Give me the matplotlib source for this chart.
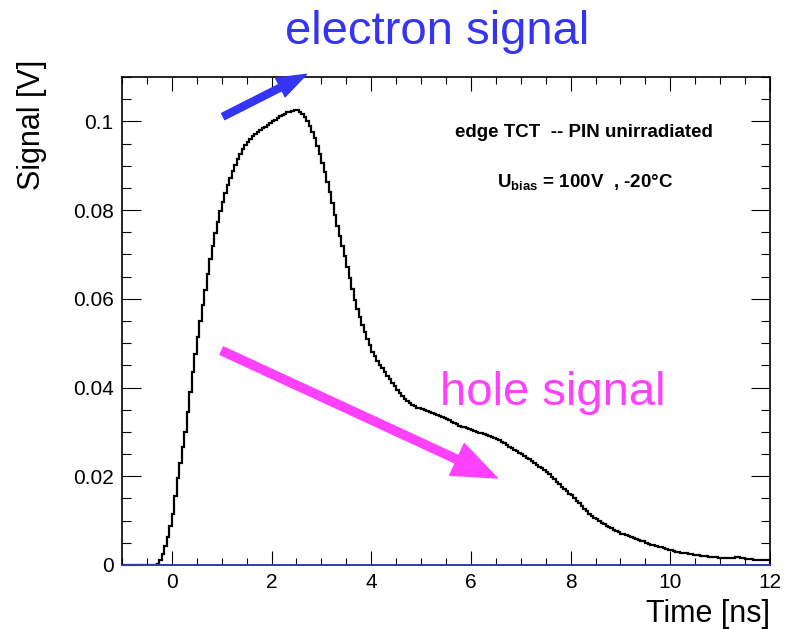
import numpy as np
import matplotlib
matplotlib.use("Agg")
import matplotlib.pyplot as plt
from matplotlib.patches import FancyArrowPatch

plt.rcParams['font.family'] = ['Liberation Sans', 'DejaVu Sans']
plt.rcParams['mathtext.fontset'] = 'custom'
plt.rcParams['mathtext.rm'] = 'Liberation Sans'
plt.rcParams['mathtext.bf'] = 'Liberation Sans:bold'

# ---- data -----------------------------------------------------------------
t_start = -1.0        # ns, first bin edge
bin_width = 0.05      # ns
signal_V = [
    # -1 .. 0 ns
    0, 0, 0, 0, 0, 0, 0, 0, 0, 0, 0, 0, 0, 0,
    0.0003, 0.0012, 0.0025, 0.0042, 0.0062, 0.0088,
    # 0 .. 1 ns
    0.0115, 0.0155, 0.0195, 0.0230, 0.0265, 0.0300, 0.0345, 0.0390, 0.0435, 0.0475,
    0.0515, 0.0550, 0.0585, 0.0620, 0.0655, 0.0690, 0.0720, 0.0748, 0.0773, 0.0797,
    # 1 .. 2 ns
    0.0818, 0.0838, 0.0857, 0.0873, 0.0888, 0.0902, 0.0915, 0.0927, 0.0937, 0.0946,
    0.0953, 0.0960, 0.0966, 0.0971, 0.0976, 0.0980, 0.0984, 0.0988, 0.0992, 0.0996,
    # 2 .. 3 ns
    0.1000, 0.1004, 0.1008, 0.1011, 0.1014, 0.1017, 0.1020, 0.1022, 0.1024, 0.1025,
    0.1025, 0.1022, 0.1017, 0.1010, 0.1001, 0.0990, 0.0977, 0.0962, 0.0945, 0.0927,
    # 3 .. 4 ns
    0.0907, 0.0886, 0.0864, 0.0840, 0.0815, 0.0790, 0.0765, 0.0742, 0.0719, 0.0696,
    0.0672, 0.0647, 0.0622, 0.0598, 0.0576, 0.0558, 0.0541, 0.0525, 0.0510, 0.0495,
    # 4 .. 5 ns
    0.0481, 0.0470, 0.0460, 0.0451, 0.0443, 0.0435, 0.0427, 0.0419, 0.0411, 0.0403,
    0.0395, 0.0387, 0.0380, 0.0374, 0.0369, 0.0365, 0.0361, 0.0358, 0.0355, 0.0353,
    # 5 .. 6 ns
    0.0351, 0.0349, 0.0347, 0.0345, 0.0343, 0.0340, 0.0338, 0.0336, 0.0333, 0.0331,
    0.0328, 0.0326, 0.0323, 0.0320, 0.0317, 0.0314, 0.0312, 0.0310, 0.0308, 0.0306,
    # 6 .. 7 ns
    0.0304, 0.0302, 0.0300, 0.0298, 0.0297, 0.0295, 0.0293, 0.0291, 0.0289, 0.0287,
    0.0284, 0.0281, 0.0278, 0.0274, 0.0270, 0.0267, 0.0264, 0.0260, 0.0257, 0.0253,
    # 7 .. 8 ns
    0.0250, 0.0246, 0.0242, 0.0238, 0.0234, 0.0230, 0.0226, 0.0222, 0.0218, 0.0214,
    0.0209, 0.0204, 0.0199, 0.0194, 0.0188, 0.0182, 0.0176, 0.0171, 0.0166, 0.0161,
    # 8 .. 9 ns
    0.0157, 0.0151, 0.0145, 0.0139, 0.0133, 0.0127, 0.0121, 0.0116, 0.0111, 0.0107,
    0.0103, 0.0099, 0.0095, 0.0092, 0.0089, 0.0086, 0.0083, 0.0080, 0.0077, 0.0074,
    # 9 .. 10 ns
    0.0071, 0.0069, 0.0067, 0.0065, 0.0063, 0.0061, 0.0059, 0.0057, 0.0055, 0.0053,
    0.0050, 0.0048, 0.0046, 0.0045, 0.0043, 0.0041, 0.0040, 0.0038, 0.0036, 0.0034,
    # 10 .. 11 ns
    0.0033, 0.0031, 0.0030, 0.0029, 0.0028, 0.0027, 0.0026, 0.0025, 0.0024, 0.0023,
    0.0022, 0.0022, 0.0021, 0.0020, 0.0020, 0.0019, 0.0019, 0.0018, 0.0017, 0.0016,
    # 11 .. 12 ns
    0.0015, 0.0015, 0.0015, 0.0015, 0.0016, 0.0016, 0.0017, 0.0017, 0.0016, 0.0015,
    0.0014, 0.0013, 0.0013, 0.0012, 0.0012, 0.0012, 0.0012, 0.0012, 0.0012, 0.0012,
]
x_ticks = [0, 2, 4, 6, 8, 10, 12]
y_ticks = [0, 0.02, 0.04, 0.06, 0.08, 0.1]
y_tick_labels = ["0", "0.02", "0.04", "0.06", "0.08", "0.1"]

# ---- figure ---------------------------------------------------------------
W, H = 788, 629
fig = plt.figure(figsize=(W / 100, H / 100), dpi=100)
L, R, T, B = 122, 770, 77, 565
ax = fig.add_axes([L / W, 1 - B / H, (R - L) / W, (B - T) / H])

edges = t_start + bin_width * np.arange(len(signal_V) + 1)
ax.stairs(signal_V, edges, color='black', linewidth=1.6, zorder=3)
ax.axhline(0, color='#4040d0', linewidth=1.2, zorder=6, clip_on=False)

ax.set_xlim(-1, 12)
ax.set_ylim(0, 0.11)
ax.set_xticks(x_ticks)
ax.set_xticklabels([str(v) for v in x_ticks])
ax.set_xticks(np.arange(-1, 12.01, 0.5), minor=True)
ax.set_yticks(y_ticks)
ax.set_yticklabels(y_tick_labels)
ax.set_yticks(np.arange(0, 0.1101, 0.005), minor=True)

for s in ax.spines.values():
    s.set_linewidth(1.2)
ax.tick_params(axis='both', which='both', direction='in', top=True, right=True,
               width=0.8, labelsize=15, colors='black')
ax.tick_params(axis='x', which='major', length=10.4, pad=6)
ax.tick_params(axis='x', which='minor', length=5.2)
ax.tick_params(axis='y', which='major', length=13.7, pad=6)
ax.tick_params(axis='y', which='minor', length=6.8)

fig.text(32 / W, 1 - 60 / H, "Signal [V]", rotation=90, ha='center', va='top', fontsize=22)
fig.text(770 / W, 1 - 622 / H, "Time [ns]", ha='right', va='baseline', fontsize=22)

fig.text(437 / W, 1 - 44 / H, "electron signal", ha='center', va='baseline',
         fontsize=34, color='#3434f4')
fig.text(440 / W, 1 - 405 / H, "hole signal", ha='left', va='baseline',
         fontsize=34, color='#ff40ff')

fig.text(584 / W, 1 - 137 / H, "edge TCT  -- PIN unirradiated", ha='center',
         va='baseline', fontsize=13.5, fontweight='bold')
fig.text(585 / W, 1 - 188 / H, r"U$_{\mathbf{bias}}$ = 100V  , -20°C", ha='center',
         va='baseline', fontsize=13.5, fontweight='bold')

# arrows (data coordinates of tail and tip)
blue_arrow = FancyArrowPatch((1.03, 0.1011), (2.70, 0.1106),
                             arrowstyle='simple,head_length=21,head_width=15,tail_width=5',
                             mutation_scale=1, color='#3434f4', shrinkA=0, shrinkB=0,
                             clip_on=False, zorder=7)
ax.add_patch(blue_arrow)
mag_arrow = FancyArrowPatch((1.00, 0.0483), (6.53, 0.0196),
                            arrowstyle='simple,head_length=32,head_width=25,tail_width=6',
                            mutation_scale=1, color='#ff40ff', shrinkA=0, shrinkB=0,
                            clip_on=False, zorder=7)
ax.add_patch(mag_arrow)

fig.savefig("out.png", dpi=100)
